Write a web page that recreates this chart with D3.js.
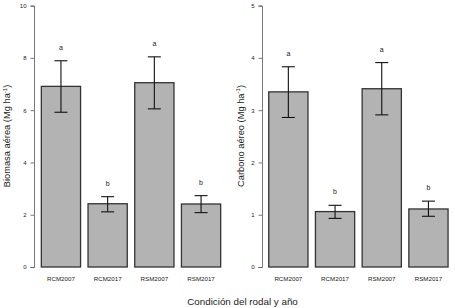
<!DOCTYPE html>
<html>
<head>
<meta charset="utf-8">
<script src="https://cdn.jsdelivr.net/npm/d3@7"></script>
<style>
  body { margin: 0; background: #fff; }
  text { font-family: "Liberation Sans", Arial, sans-serif; }
</style>
</head>
<body>
<div id="container"></div>
<script>
/* DATA */
const categories = ["RCM2007", "RCM2017", "RSM2007", "RSM2017"];
const letters = ["a", "b", "a", "b"];

const biomasa = [6.91, 2.42, 7.05, 2.41];
const biomasaLow = [5.92, 2.11, 6.05, 2.08];
const biomasaHigh = [7.89, 2.69, 8.04, 2.73];
const biomasaTicks = [0, 2, 4, 6, 8, 10];

const carbono = [3.35, 1.06, 3.41, 1.11];
const carbonoLow = [2.86, 0.93, 2.91, 0.97];
const carbonoHigh = [3.83, 1.18, 3.91, 1.26];
const carbonoTicks = [0, 1, 2, 3, 4, 5];

/* CONSTANTS */
const width = 455, height = 308;

const svg = d3.select("#container")
  .append("svg")
  .attr("width", width)
  .attr("height", height)

function panel(opts) {
  const g = svg.append("g")

  const xScale = d3.scaleBand()
    .domain(categories)
    .range([opts.x0, opts.x0 + 186.8])
    .paddingInner(0.16)
    .paddingOuter(0.08)

  const yScale = d3.scaleLinear()
    .domain([0, opts.max])
    .range([267, 5.6])

  // y axis
  const yAxis = d3.axisLeft(yScale)
    .tickValues(opts.ticks)
    .tickSize(3.5)
    .tickPadding(4)
    .tickFormat(d3.format("d"))

  const ax = g.append("g")
    .attr("transform", `translate(${opts.axisX},0)`)
    .call(yAxis)
  ax.select(".domain").attr("stroke", "#555").attr("stroke-width", 0.8)
  ax.selectAll(".tick line").attr("stroke", "#555").attr("stroke-width", 0.8)
  ax.selectAll(".tick text")
    .attr("font-size", 6)
    .attr("fill", "#222")
    .attr("font-family", "Liberation Sans, Arial, sans-serif")

  // bars
  g.selectAll(".bar")
    .data(opts.values)
    .join("rect")
    .attr("class", "bar")
    .attr("x", (d, i) => xScale(categories[i]))
    .attr("width", xScale.bandwidth())
    .attr("y", d => yScale(d))
    .attr("height", d => yScale(0) - yScale(d))
    .attr("fill", "#b3b3b3")
    .attr("stroke", "#333")
    .attr("stroke-width", 1.3)

  // error bars
  const cx = i => xScale(categories[i]) + xScale.bandwidth() / 2
  const err = g.selectAll(".err")
    .data(opts.values)
    .join("g")
    .attr("class", "err")
    .attr("stroke", "#111")
    .attr("stroke-width", 1.1)
  err.append("line")
    .attr("x1", (d, i) => cx(i)).attr("x2", (d, i) => cx(i))
    .attr("y1", (d, i) => yScale(opts.low[i]))
    .attr("y2", (d, i) => yScale(opts.high[i]))
  err.append("line")
    .attr("x1", (d, i) => cx(i) - 6.5).attr("x2", (d, i) => cx(i) + 6.5)
    .attr("y1", (d, i) => yScale(opts.low[i]))
    .attr("y2", (d, i) => yScale(opts.low[i]))
  err.append("line")
    .attr("x1", (d, i) => cx(i) - 6.5).attr("x2", (d, i) => cx(i) + 6.5)
    .attr("y1", (d, i) => yScale(opts.high[i]))
    .attr("y2", (d, i) => yScale(opts.high[i]))

  // letters
  g.selectAll(".letter")
    .data(letters)
    .join("text")
    .attr("class", "letter")
    .attr("x", (d, i) => cx(i))
    .attr("y", (d, i) => yScale(opts.high[i]) - 11)
    .attr("text-anchor", "middle")
    .attr("font-size", 7)
    .attr("fill", "#222")
    .text(d => d)

  // category labels
  g.selectAll(".cat")
    .data(categories)
    .join("text")
    .attr("class", "cat")
    .attr("x", (d, i) => cx(i))
    .attr("y", 280.5)
    .attr("text-anchor", "middle")
    .attr("font-size", 6.2)
    .attr("fill", "#222")
    .text(d => d)

  // y label
  const lab = g.append("text")
    .attr("transform", `translate(${opts.labelX},136) rotate(-90)`)
    .attr("text-anchor", "middle")
    .attr("font-size", 9.3)
    .attr("fill", "#222")
  lab.append("tspan").text(opts.label + " (Mg ha")
  lab.append("tspan").attr("font-size", 6).attr("dy", -3.5).text("-1")
  lab.append("tspan").attr("dy", 3.5).text(")")
}

panel({
  x0: 37.6, axisX: 34, labelX: 10, max: 10, ticks: biomasaTicks,
  values: biomasa, low: biomasaLow, high: biomasaHigh,
  label: "Biomasa aérea"
})

panel({
  x0: 265, axisX: 262, labelX: 243.5, max: 5, ticks: carbonoTicks,
  values: carbono, low: carbonoLow, high: carbonoHigh,
  label: "Carbono aéreo"
})

svg.append("text")
  .attr("x", 242.5)
  .attr("y", 305)
  .attr("text-anchor", "middle")
  .attr("font-size", 9.8)
  .attr("fill", "#222")
  .text("Condición del rodal y año")
</script>
</body>
</html>
